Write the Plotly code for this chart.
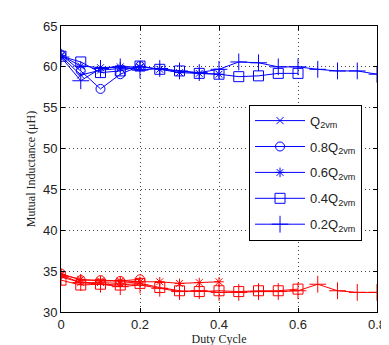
import plotly.graph_objects as go

# ---------------- data ----------------
labels = ["Q<sub>2vm</sub>", "0.8Q<sub>2vm</sub>", "0.6Q<sub>2vm</sub>", "0.4Q<sub>2vm</sub>", "0.2Q<sub>2vm</sub>"]
symbols = ["x-thin-open", "circle-open", "asterisk-open", "square-open", "cross-thin-open"]

# upper (blue) group
blue_q_x = [0, 0.05, 0.1, 0.15, 0.2]
blue_q_y = [61.3, 59.0, 59.6, 59.8, 59.9]
blue_08_x = [0, 0.05, 0.1, 0.15, 0.2]
blue_08_y = [61.5, 59.5, 57.3, 59.1, 60.1]
blue_06_x = [0, 0.05, 0.1, 0.15, 0.2, 0.25, 0.3, 0.35, 0.4]
blue_06_y = [61.4, 60.1, 59.9, 60.0, 60.0, 59.7, 59.3, 59.2, 59.1]
blue_04_x = [0, 0.05, 0.1, 0.15, 0.2, 0.25, 0.3, 0.35, 0.4, 0.45, 0.5, 0.55, 0.6]
blue_04_y = [61.3, 60.6, 59.3, 59.5, 60.1, 59.7, 59.5, 59.2, 59.1, 58.8, 58.9, 59.2, 59.2]
blue_02_x = [0, 0.05, 0.1, 0.15, 0.2, 0.25, 0.3, 0.35, 0.4, 0.45, 0.5, 0.55, 0.6, 0.65, 0.7, 0.75, 0.8]
blue_02_y = [61.2, 58.3, 59.8, 60.0, 59.6, 59.8, 59.5, 59.3, 59.7, 60.6, 60.5, 60.0, 60.0, 59.7, 59.5, 59.5, 59.1]

# lower (red) group
red_q_x = [0, 0.05, 0.1, 0.15, 0.2]
red_q_y = [34.5, 33.6, 33.6, 33.5, 33.7]
red_08_x = [0, 0.05, 0.1, 0.15, 0.2]
red_08_y = [34.7, 33.9, 33.9, 33.8, 34.0]
red_06_x = [0, 0.05, 0.1, 0.15, 0.2, 0.25, 0.3, 0.35, 0.4]
red_06_y = [34.6, 34.0, 33.8, 33.8, 33.7, 33.7, 33.5, 33.6, 33.7]
red_04_x = [0, 0.05, 0.1, 0.15, 0.2, 0.25, 0.3, 0.35, 0.4, 0.45, 0.5, 0.55, 0.6]
red_04_y = [33.9, 33.3, 33.4, 33.3, 33.5, 33.0, 32.6, 32.5, 32.6, 32.5, 32.6, 32.6, 32.8]
red_02_x = [0, 0.05, 0.1, 0.15, 0.2, 0.25, 0.3, 0.35, 0.4, 0.45, 0.5, 0.55, 0.6, 0.65, 0.7, 0.75, 0.8]
red_02_y = [34.3, 33.6, 33.4, 33.1, 33.3, 32.9, 32.5, 32.6, 32.4, 32.4, 32.5, 32.5, 32.6, 33.4, 32.6, 32.4, 32.4]

x_ticks = [0, 0.2, 0.4, 0.6, 0.8]
x_tick_text = ["0", "0.2", "0.4", "0.6", "0.8"]
y_ticks = [30, 35, 40, 45, 50, 55, 60, 65]

blue_series = [(blue_q_x, blue_q_y), (blue_08_x, blue_08_y), (blue_06_x, blue_06_y),
               (blue_04_x, blue_04_y), (blue_02_x, blue_02_y)]
red_series = [(red_q_x, red_q_y), (red_08_x, red_08_y), (red_06_x, red_06_y),
              (red_04_x, red_04_y), (red_02_x, red_02_y)]
sizes = [7, 9, 8, 10, 12]

fig = go.Figure()
for i, (xs, ys) in enumerate(blue_series):
    fig.add_trace(go.Scatter(
        x=xs, y=ys, mode="lines+markers", name=labels[i], legendgroup=f"g{i}",
        line=dict(color="#0000ff", width=1),
        marker=dict(symbol=symbols[i], size=sizes[i], color="#0000ff",
                    line=dict(color="#0000ff", width=1)),
    ))
for i, (xs, ys) in enumerate(red_series):
    fig.add_trace(go.Scatter(
        x=xs, y=ys, mode="lines+markers", name=labels[i], showlegend=False,
        line=dict(color="#ff0000", width=1),
        marker=dict(symbol=symbols[i], size=sizes[i], color="#ff0000",
                    line=dict(color="#ff0000", width=1)),
    ))

axis_common = dict(
    showline=True, linecolor="black", linewidth=1, mirror="ticks",
    ticks="inside", ticklen=4, tickcolor="black",
    showgrid=True, gridcolor="#444444", griddash="1px,3px", gridwidth=1,
    zeroline=False,
    tickfont=dict(family="Liberation Sans, Arial, sans-serif", size=13, color="#222222"),
)

fig.update_layout(
    width=389, height=345,
    margin=dict(l=53, r=11, t=13, b=41),
    paper_bgcolor="white", plot_bgcolor="white",
    xaxis=dict(range=[0, 0.8], tickvals=x_ticks, ticktext=x_tick_text,
               title=dict(text="Duty Cycle", standoff=1,
                          font=dict(family="Liberation Serif, Times New Roman, serif", size=12, color="#222222")),
               **axis_common),
    yaxis=dict(range=[30, 65], tickvals=y_ticks,
               title=dict(text="Mutual Inductance (μH)", standoff=4,
                          font=dict(family="Liberation Serif, Times New Roman, serif", size=12, color="#222222")),
               **axis_common),
    legend=dict(x=0.595, y=0.725, xanchor="left", yanchor="top",
                bgcolor="white", bordercolor="black", borderwidth=1,
                itemwidth=50, tracegroupgap=6, traceorder="grouped",
                font=dict(family="Liberation Sans, Arial, sans-serif", size=13, color="#222222")),
    showlegend=True,
)

fig.write_html("out.html")
